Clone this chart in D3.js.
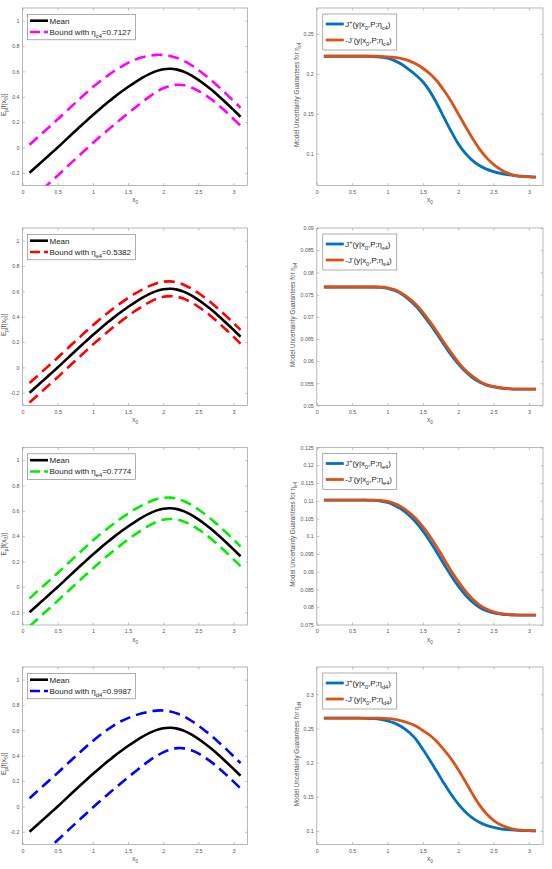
<!DOCTYPE html>
<html>
<head>
<meta charset="utf-8">
<script src="https://cdn.jsdelivr.net/npm/d3@7"></script>
<style>
  body { margin: 0; background: #fff; }
  svg { display: block; font-family: "Liberation Sans", Arial, sans-serif; }
</style>
</head>
<body>
<div id="chart"></div>
<script>
// x grid shared by every curve
const xs = [0.1, 0.2, 0.3, 0.4, 0.5, 0.6, 0.7, 0.8, 0.9, 1.0, 1.1, 1.2, 1.3, 1.4, 1.5, 1.6,
            1.7, 1.8, 1.9, 2.0, 2.1, 2.2, 2.3, 2.4, 2.5, 2.6, 2.7, 2.8, 2.9, 3.0, 3.1];

// mean curve (same in all left panels)
const meanVals = [-0.200, -0.150, -0.100, -0.050, 0.000, 0.052, 0.104, 0.155, 0.206, 0.256, 0.304, 0.350,
                  0.395, 0.437, 0.477, 0.514, 0.548, 0.578, 0.602, 0.617, 0.621, 0.614, 0.596, 0.568,
                  0.533, 0.493, 0.449, 0.400, 0.349, 0.296, 0.242];

// bounds, left column
const upperC4 = [0.022, 0.072, 0.122, 0.172, 0.222, 0.274, 0.326, 0.377, 0.427, 0.476, 0.521, 0.562, 0.601, 0.636, 0.667, 0.692,
                 0.711, 0.723, 0.730, 0.730, 0.722, 0.706, 0.681, 0.649, 0.611, 0.568, 0.523, 0.473, 0.421, 0.367, 0.313];
const lowerC4 = [-0.422, -0.372, -0.322, -0.272, -0.222, -0.170, -0.118, -0.067, -0.016, 0.035, 0.084, 0.131, 0.179, 0.225, 0.270, 0.314,
                 0.357, 0.399, 0.437, 0.467, 0.487, 0.495, 0.490, 0.473, 0.447, 0.413, 0.374, 0.327, 0.278, 0.225, 0.172];
const upperS4 = [-0.123, -0.073, -0.023, 0.027, 0.077, 0.129, 0.181, 0.232, 0.283, 0.332, 0.380, 0.425, 0.469, 0.509, 0.548, 0.582,
                 0.614, 0.642, 0.663, 0.676, 0.679, 0.670, 0.651, 0.623, 0.587, 0.547, 0.503, 0.454, 0.403, 0.350, 0.296];
const lowerS4 = [-0.277, -0.227, -0.177, -0.127, -0.077, -0.025, 0.027, 0.078, 0.129, 0.180, 0.228, 0.275, 0.321, 0.364, 0.406, 0.445,
                 0.481, 0.514, 0.540, 0.557, 0.563, 0.557, 0.541, 0.513, 0.479, 0.439, 0.395, 0.346, 0.295, 0.242, 0.188];
const upperE4 = [-0.090, -0.040, 0.010, 0.060, 0.110, 0.162, 0.214, 0.265, 0.316, 0.366, 0.413, 0.458, 0.501, 0.541, 0.579, 0.613,
                 0.643, 0.670, 0.691, 0.703, 0.705, 0.696, 0.676, 0.647, 0.611, 0.571, 0.527, 0.478, 0.427, 0.374, 0.320];
const lowerE4 = [-0.310, -0.260, -0.210, -0.160, -0.110, -0.058, -0.006, 0.045, 0.096, 0.146, 0.195, 0.242, 0.288, 0.332, 0.374, 0.414,
                 0.451, 0.484, 0.512, 0.530, 0.536, 0.532, 0.515, 0.489, 0.454, 0.415, 0.371, 0.322, 0.271, 0.218, 0.164];
const upperD4 = [0.065, 0.115, 0.165, 0.215, 0.265, 0.317, 0.369, 0.419, 0.469, 0.517, 0.562, 0.603, 0.640, 0.672, 0.697, 0.718,
                 0.735, 0.748, 0.756, 0.757, 0.749, 0.733, 0.709, 0.676, 0.638, 0.596, 0.551, 0.501, 0.450, 0.396, 0.342];
const lowerD4 = [-0.465, -0.415, -0.365, -0.315, -0.265, -0.213, -0.161, -0.110, -0.059, -0.008, 0.041, 0.089, 0.137, 0.184, 0.230, 0.274,
                 0.318, 0.360, 0.397, 0.427, 0.449, 0.460, 0.458, 0.443, 0.418, 0.384, 0.344, 0.298, 0.248, 0.196, 0.142];

// guarantees, right column (J+ blue, -J- orange)
const jPlusC4 = [0.222, 0.222, 0.222, 0.222, 0.222, 0.222, 0.222, 0.2217, 0.2210, 0.2195, 0.2165, 0.2120, 0.2055, 0.1985, 0.1900, 0.1780,
                 0.1625, 0.1450, 0.1280, 0.1125, 0.1005, 0.0915, 0.0850, 0.0805, 0.0775, 0.0753, 0.0737, 0.0725, 0.0716, 0.0710, 0.0706];
const jMinusC4 = [0.222, 0.222, 0.222, 0.222, 0.222, 0.222, 0.222, 0.222, 0.2218, 0.2213, 0.2205, 0.2190, 0.2165, 0.2125, 0.2070, 0.2000,
                  0.1910, 0.1790, 0.1655, 0.1500, 0.1345, 0.1195, 0.1060, 0.0950, 0.0865, 0.0800, 0.0755, 0.0728, 0.0715, 0.0708, 0.0705];
const jPlusS4 = [0.0767, 0.0767, 0.0767, 0.0767, 0.0767, 0.0767, 0.0767, 0.0767, 0.0766, 0.0764, 0.0759, 0.0751, 0.0739, 0.0724, 0.0705, 0.0684,
                 0.0661, 0.0637, 0.0614, 0.0594, 0.0577, 0.0563, 0.0553, 0.0546, 0.0542, 0.0539, 0.0538, 0.0537, 0.0537, 0.0537, 0.0537];
const jMinusS4 = [0.0767, 0.0767, 0.0767, 0.0767, 0.0767, 0.0767, 0.0767, 0.0767, 0.0767, 0.0765, 0.0761, 0.0753, 0.0742, 0.0728, 0.0710, 0.0689,
                  0.0666, 0.0642, 0.0619, 0.0598, 0.0580, 0.0566, 0.0555, 0.0547, 0.0543, 0.0540, 0.0538, 0.0537, 0.0537, 0.0537, 0.0537];
const jPlusE4 = [0.1102, 0.1102, 0.1102, 0.1102, 0.1102, 0.1102, 0.1102, 0.1101, 0.1099, 0.1095, 0.1087, 0.1076, 0.1060, 0.1040, 0.1015, 0.0986,
                 0.0954, 0.0921, 0.0889, 0.0860, 0.0835, 0.0815, 0.0800, 0.0790, 0.0784, 0.0781, 0.0779, 0.0778, 0.0778, 0.0778, 0.0778];
const jMinusE4 = [0.1102, 0.1102, 0.1102, 0.1102, 0.1102, 0.1102, 0.1102, 0.1102, 0.1101, 0.1098, 0.1092, 0.1082, 0.1068, 0.1050, 0.1027, 0.1000,
                  0.0969, 0.0936, 0.0903, 0.0873, 0.0846, 0.0824, 0.0807, 0.0795, 0.0787, 0.0782, 0.0780, 0.0779, 0.0778, 0.0778, 0.0778];
const jPlusD4 = [0.265, 0.265, 0.265, 0.265, 0.265, 0.265, 0.2648, 0.2643, 0.2632, 0.2612, 0.2578, 0.2525, 0.2448, 0.2345, 0.2195, 0.2035,
                 0.1865, 0.1695, 0.1535, 0.1395, 0.1280, 0.1190, 0.1125, 0.1080, 0.1050, 0.1030, 0.1018, 0.1010, 0.1005, 0.1002, 0.1000];
const jMinusD4 = [0.265, 0.265, 0.265, 0.265, 0.265, 0.265, 0.265, 0.265, 0.265, 0.2643, 0.2632, 0.2612, 0.2580, 0.2535, 0.2470, 0.2400,
                  0.2305, 0.2185, 0.2055, 0.1900, 0.1725, 0.1545, 0.1380, 0.1250, 0.1155, 0.1090, 0.1048, 0.1022, 0.1010, 0.1004, 0.1001];

const etaKeys = ["c4", "s4", "e4", "d4"];
const etaValues = ["0.7127", "0.5382", "0.7774", "0.9987"];

const xTicks = [0, 0.5, 1, 1.5, 2, 2.5, 3];
const leftYTicks = [-0.2, 0, 0.2, 0.4, 0.6, 0.8, 1];
const rightYLims = [[0.06, 0.2825], [0.05, 0.09], [0.075, 0.125], [0.08, 0.34]];
const rightYTicks = [
  [0.1, 0.15, 0.2, 0.25],
  [0.05, 0.055, 0.06, 0.065, 0.07, 0.075, 0.08, 0.085, 0.09],
  [0.075, 0.08, 0.085, 0.09, 0.095, 0.1, 0.105, 0.11, 0.115, 0.12, 0.125],
  [0.1, 0.15, 0.2, 0.25, 0.3]
];

const boundColors = ["#ff00ff", "#ff0000", "#00ee00", "#0000ff"];
const blue = "#0072BD", orange = "#D95319";

const uppers = [upperC4, upperS4, upperE4, upperD4];
const lowers = [lowerC4, lowerS4, lowerE4, lowerD4];
const jPlus = [jPlusC4, jPlusS4, jPlusE4, jPlusD4];
const jMinus = [jMinusC4, jMinusS4, jMinusE4, jMinusD4];

// layout
const width = 552, height = 869;
const rowTop = [8, 228, 447.5, 667];
const rowH = 177.5;
const leftCol = [22.5, 247.6];
const rightCol = [316.8, 543];
const rightLabelX = [299, 294.5, 294.5, 299]; // wider tick labels push the label left
const axisGray = "#9a9a9a", textGray = "#555";

const svg = d3.select("#chart").append("svg")
  .attr("width", width)
  .attr("height", height);

const fmt = d => String(+d.toFixed(4));

// text with sub/superscripts: parts = [[string, mode]], mode 0 normal, 1 sub, 2 sup
function rich(text, parts, fs) {
  let shift = 0;
  parts.forEach(([s, m]) => {
    const target = m === 1 ? fs * 0.35 : m === 2 ? -fs * 0.4 : 0;
    text.append("tspan")
      .attr("dy", (target - shift).toFixed(2))
      .attr("font-size", m ? fs * 0.72 : fs)
      .text(s);
    shift = target;
  });
}

function styleAxis(g) {
  g.attr("font-family", null).attr("font-size", null);
  g.select(".domain").remove();
  g.selectAll("line").attr("stroke", axisGray).attr("stroke-width", 0.6);
  g.selectAll("text").attr("fill", textGray).attr("font-size", 5.3);
}

function frame(g, x, y, yTicks) {
  const [x0, x1] = x.range();
  const [y1, y0] = y.range();
  g.append("rect")
    .attr("x", x0).attr("y", y0)
    .attr("width", x1 - x0).attr("height", y1 - y0)
    .attr("fill", "#fff")
    .attr("stroke", axisGray).attr("stroke-width", 0.7);
  g.append("g").attr("transform", `translate(0,${y1})`)
    .call(d3.axisBottom(x).tickValues(xTicks).tickSize(-2.5).tickPadding(4.5).tickFormat(fmt))
    .call(styleAxis);
  g.append("g").attr("transform", `translate(0,${y0})`)
    .call(d3.axisTop(x).tickValues(xTicks).tickSize(-2.5).tickFormat(""))
    .call(styleAxis);
  g.append("g").attr("transform", `translate(${x0},0)`)
    .call(d3.axisLeft(y).tickValues(yTicks).tickSize(-2.5).tickPadding(3).tickFormat(fmt))
    .call(styleAxis);
  g.append("g").attr("transform", `translate(${x1},0)`)
    .call(d3.axisRight(y).tickValues(yTicks).tickSize(-2.5).tickFormat(""))
    .call(styleAxis);
}

function xLabel(g, x, y1) {
  const t = g.append("text")
    .attr("x", (x.range()[0] + x.range()[1]) / 2)
    .attr("y", y1 + 16.5)
    .attr("text-anchor", "middle")
    .attr("fill", textGray);
  rich(t, [["x", 0], ["0", 1]], 6.5);
}

etaKeys.forEach((key, r) => {
  const top = rowTop[r], bottom = rowTop[r] + rowH;

  // ---------- left panel ----------
  const xL = d3.scaleLinear().domain([0, 3.2]).range(leftCol);
  const yL = d3.scaleLinear().domain([-0.3, 1.1]).range([bottom, top]);
  const gL = svg.append("g");
  frame(gL, xL, yL, leftYTicks);
  xLabel(gL, xL, bottom);

  const clipId = "clip" + r;
  svg.append("clipPath").attr("id", clipId)
    .append("rect")
    .attr("x", leftCol[0]).attr("y", top)
    .attr("width", leftCol[1] - leftCol[0]).attr("height", rowH);

  const lineL = d3.line().x((d, i) => xL(xs[i])).y(d => yL(d)).curve(d3.curveCatmullRom);
  const plotL = gL.append("g").attr("clip-path", `url(#${clipId})`);
  plotL.append("path").attr("d", lineL(meanVals))
    .attr("fill", "none").attr("stroke", "#000").attr("stroke-width", 2.6);
  [uppers[r], lowers[r]].forEach(vals => {
    plotL.append("path").attr("d", lineL(vals))
      .attr("fill", "none").attr("stroke", boundColors[r])
      .attr("stroke-width", 2.6).attr("stroke-dasharray", "11,6");
  });

  const ylT = gL.append("text")
    .attr("transform", `translate(5.5,${(top + bottom) / 2 + 8}) rotate(-90)`)
    .attr("text-anchor", "middle")
    .attr("fill", textGray);
  rich(ylT, [["E", 0], ["p", 1], ["[f(x", 0], ["0", 1], [")]", 0]], 6.5);

  // legend
  const lx = leftCol[0] + 5, ly = top + 6.3;
  gL.append("rect").attr("x", lx).attr("y", ly).attr("width", 108).attr("height", 25.5)
    .attr("fill", "#fff").attr("stroke", "#777").attr("stroke-width", 0.6);
  const rowsL = [ly + 6.4, ly + 17.7];
  gL.append("line").attr("x1", lx + 2.5).attr("x2", lx + 20.5)
    .attr("y1", rowsL[0]).attr("y2", rowsL[0])
    .attr("stroke", "#000").attr("stroke-width", 2.6);
  gL.append("line").attr("x1", lx + 2.5).attr("x2", lx + 20.5)
    .attr("y1", rowsL[1]).attr("y2", rowsL[1])
    .attr("stroke", boundColors[r]).attr("stroke-width", 2.6).attr("stroke-dasharray", "10,4");
  const t1 = gL.append("text").attr("x", lx + 22).attr("y", rowsL[0] + 2.9).attr("fill", "#222");
  rich(t1, [["Mean", 0]], 8);
  const t2 = gL.append("text").attr("x", lx + 22).attr("y", rowsL[1] + 2.9).attr("fill", "#222");
  rich(t2, [["Bound with η", 0], [key, 1], ["=" + etaValues[r], 0]], 8);

  // ---------- right panel ----------
  const xR = d3.scaleLinear().domain([0, 3.2]).range(rightCol);
  const yR = d3.scaleLinear().domain(rightYLims[r]).range([bottom, top]);
  const gR = svg.append("g");
  frame(gR, xR, yR, rightYTicks[r]);
  xLabel(gR, xR, bottom);

  const lineR = d3.line().x((d, i) => xR(xs[i])).y(d => yR(d)).curve(d3.curveCatmullRom);
  gR.append("path").attr("d", lineR(jPlus[r]))
    .attr("fill", "none").attr("stroke", blue).attr("stroke-width", 2.8);
  gR.append("path").attr("d", lineR(jMinus[r]))
    .attr("fill", "none").attr("stroke", orange).attr("stroke-width", 2.8);

  const yrT = gR.append("text")
    .attr("transform", `translate(${rightLabelX[r]},${(top + bottom) / 2 - 2}) rotate(-90)`)
    .attr("text-anchor", "middle")
    .attr("fill", textGray);
  rich(yrT, [["Model Uncertainty Guarantees for η", 0], [key, 1]], 6.3);

  const rx = rightCol[0] + 6, ry = top + 6;
  gR.append("rect").attr("x", rx).attr("y", ry).attr("width", 74).attr("height", 36)
    .attr("fill", "#fff").attr("stroke", "#777").attr("stroke-width", 0.6);
  const rowsR = [ry + 10, ry + 26];
  [blue, orange].forEach((c, i) => {
    gR.append("line").attr("x1", rx + 3).attr("x2", rx + 21)
      .attr("y1", rowsR[i]).attr("y2", rowsR[i])
      .attr("stroke", c).attr("stroke-width", 2.8);
  });
  const r1 = gR.append("text").attr("x", rx + 22.5).attr("y", rowsR[0] + 2.8).attr("fill", "#222");
  rich(r1, [["J", 0], ["+", 2], ["(y|x", 0], ["0", 1], [",P;η", 0], [key, 1], [")", 0]], 7.8);
  const r2 = gR.append("text").attr("x", rx + 22.5).attr("y", rowsR[1] + 2.8).attr("fill", "#222");
  rich(r2, [["-J", 0], ["-", 2], ["(y|x", 0], ["0", 1], [",P;η", 0], [key, 1], [")", 0]], 7.8);
});
</script>
</body>
</html>
